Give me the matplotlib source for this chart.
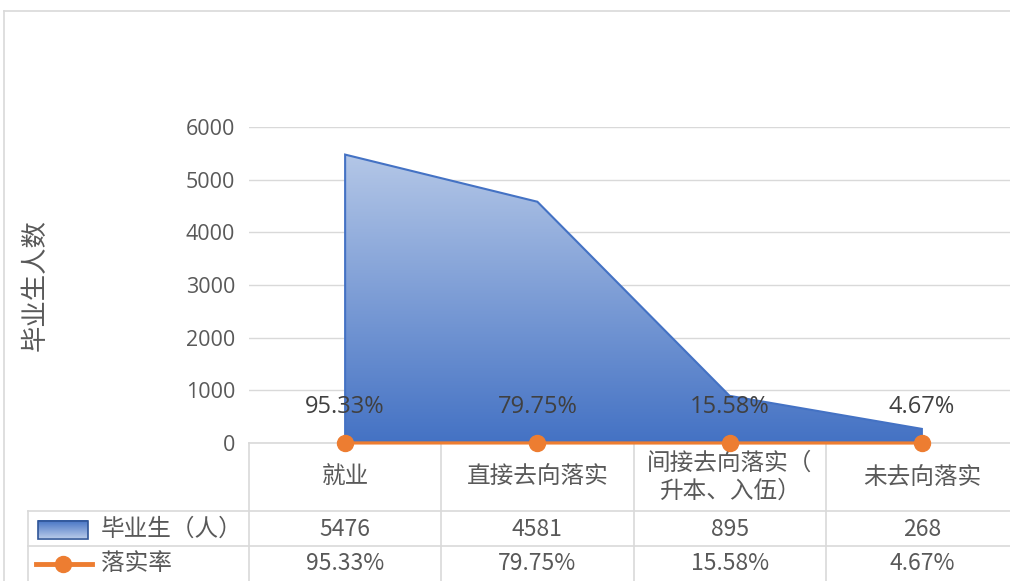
import numpy as np
import matplotlib
matplotlib.use("Agg")
import matplotlib.pyplot as plt
from matplotlib.patches import Polygon, Rectangle
from matplotlib.lines import Line2D
from matplotlib.colors import LinearSegmentedColormap
import matplotlib.transforms as mtrans

plt.rcParams['font.family'] = ['Noto Sans CJK SC', 'DejaVu Sans']

categories = ["就业", "直接去向落实", "间接去向落实（\n升本、入伍）", "未去向落实"]
graduates = [5476, 4581, 895, 268]
rates = [0.9533, 0.7975, 0.1558, 0.0467]
rate_labels = ["95.33%", "79.75%", "15.58%", "4.67%"]
series_names = ["毕业生（人）", "落实率"]
y_label = "毕业生人数"
y_ticks = [0, 1000, 2000, 3000, 4000, 5000, 6000]

W, H = 1010, 581
fig = plt.figure(figsize=(W / 100, H / 100), dpi=100)

# overlay axes in pixel coordinates (for table / frame)
ov = fig.add_axes([0, 0, 1, 1], zorder=0)
ov.set_xlim(0, W)
ov.set_ylim(H, 0)
ov.axis('off')

ax_l, ax_r, ax_top, ax_bot = 249, 1018, 127, 443
ax = fig.add_axes([ax_l / W, (H - ax_bot) / H, (ax_r - ax_l) / W, (ax_bot - ax_top) / H], zorder=2)
ax.patch.set_alpha(0)

grid_c = '#D9D9D9'
txt_c = '#595959'
blue = '#4472C4'
orange = '#ED7D31'
num_font = ['Open Sans', 'Noto Sans CJK SC']

n = len(categories)
xs = np.arange(n)
ax.set_xlim(-0.5, n - 0.5)
ax.set_ylim(0, 6000)
ax.set_yticks(y_ticks)
ax.set_yticklabels([str(t) for t in y_ticks], family=num_font, fontsize=15.5, color=txt_c)
ax.tick_params(axis='y', length=0, pad=10)
ax.tick_params(axis='x', length=0, labelbottom=False)
for s in ['top', 'right', 'left']:
    ax.spines[s].set_visible(False)
ax.spines['bottom'].set_color(grid_c)
ax.spines['bottom'].set_linewidth(1.2)
ax.grid(axis='y', color=grid_c, linewidth=1)
ax.set_axisbelow(True)

# gradient area
verts = [(xs[0], 0)] + list(zip(xs, graduates)) + [(xs[-1], 0)]
poly = Polygon(verts, closed=True, facecolor='none', edgecolor=blue, linewidth=1.5, zorder=3)
ax.add_patch(poly)
cmap = LinearSegmentedColormap.from_list('g', ['#4472C4', '#B4C7E7'])
grad = np.linspace(0, 1, 256).reshape(-1, 1)
im = ax.imshow(grad, cmap=cmap, origin='lower', aspect='auto',
               extent=[xs[0], xs[-1], 0, max(graduates)], zorder=2, interpolation='bilinear')
im.set_clip_path(poly)
ax.set_xlim(-0.5, n - 0.5)
ax.set_ylim(0, 6000)

# rate line
ax.plot(xs, rates, color=orange, linewidth=2.3, marker='o', markersize=11.5, zorder=5, clip_on=False)
for x, v, lab in zip(xs, rates, rate_labels):
    ax.annotate(lab, (x, v), xytext=(0, 26), textcoords='offset points', ha='center', va='center',
                fontsize=17, color='#404040', family=num_font, zorder=6)

ax.set_ylabel(y_label, fontsize=19, color=txt_c, labelpad=0)
ax.yaxis.set_label_coords(-(ax_l - 49) / (ax_r - ax_l), 0.5 - 0.0 / (ax_bot - ax_top))

# frame
ov.plot([4, 4], [11, H], color=grid_c, lw=1.2)
ov.plot([4, W], [11, 11], color=grid_c, lw=1.2)

# table
bt = mtrans.blended_transform_factory(ax.transData, ov.transData)
row_y = [443, 511, 546, 581]
bounds = [-0.5 + i for i in range(n + 1)]
for b in bounds:
    ov.plot([b, b], [row_y[0], H], color=grid_c, lw=1.2, transform=bt, clip_on=False)
ov.plot([28, 28], [row_y[1], H], color=grid_c, lw=1.2)
for yy in row_y[1:3]:
    ov.plot([28, W], [yy, yy], color=grid_c, lw=1.2)

tfs = 17
for x, c in zip(xs, categories):
    ov.text(x, (row_y[0] + row_y[1]) / 2, c, transform=bt, ha='center', va='center',
            fontsize=tfs, color=txt_c, linespacing=1.3)
for x, g, r in zip(xs, graduates, rate_labels):
    ov.text(x, (row_y[1] + row_y[2]) / 2 + 1, str(g), transform=bt, ha='center', va='center',
            fontsize=tfs - 0.5, color=txt_c)
    ov.text(x, (row_y[2] + row_y[3]) / 2, r, transform=bt, ha='center', va='center',
            fontsize=tfs - 0.5, color=txt_c)

# legend keys in table
ry1 = (row_y[1] + row_y[2]) / 2 + 1
ry2 = (row_y[2] + row_y[3]) / 2
key_img = ov.imshow(grad, cmap=cmap, origin='upper', aspect='auto',
                    extent=[38, 88, ry1 + 9, ry1 - 9], zorder=3)
ov.add_patch(Rectangle((38, ry1 - 9), 50, 18, facecolor='none', edgecolor='#2F5597', lw=1.2, zorder=4))
ov.add_line(Line2D([36, 92], [ry2, ry2], color=orange, lw=3.5, zorder=3))
ov.plot([63], [ry2], marker='o', color=orange, markersize=11.5, zorder=4)
ov.text(101, ry1, series_names[0], ha='left', va='center', fontsize=tfs, color=txt_c)
ov.text(101, ry2, series_names[1], ha='left', va='center', fontsize=tfs, color=txt_c)
ov.set_xlim(0, W)
ov.set_ylim(H, 0)

fig.savefig('out.png', dpi=100)
